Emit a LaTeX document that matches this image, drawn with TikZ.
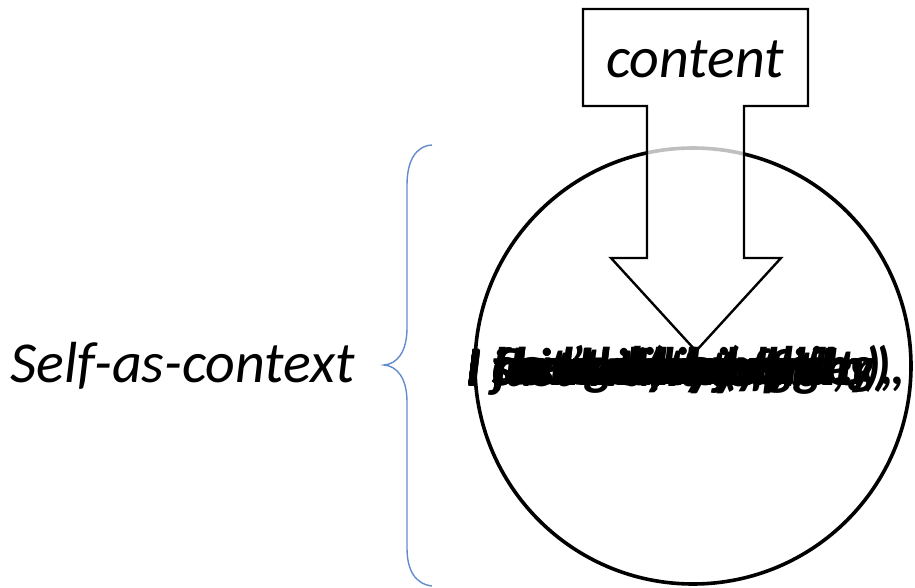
\documentclass[tikz,border=0pt]{standalone}
\usepackage{fontspec}
\setmainfont{Carlito}
\begin{document}
\begin{tikzpicture}[x=1pt,y=-1pt,
  thought/.style={anchor=base west,inner sep=0pt,font=\fontsize{53}{53}\selectfont\bfseries\itshape},
  bigit/.style={inner sep=0pt,font=\fontsize{58}{58}\selectfont\itshape}]
\useasboundingbox[fill=white] (0,0) rectangle (915,588);
% circle
\node[draw,circle,line width=3.6pt,minimum size=436pt,inner sep=0pt] (self) at (693,366) {};
% brace
\draw[line width=1.4pt,color={rgb,255:red,100;green,140;blue,205}]
  (432,145) .. controls (415,146) and (407,162) .. (407,185) -- (407,328)
  .. controls (407,352) and (397,364) .. (384,365)
  .. controls (397,366) and (407,378) .. (407,402) -- (407,548)
  .. controls (407,570) and (415,584) .. (432,586);
\coordinate (bracemid) at (384,365);
\node[bigit,anchor=base west] (sac) at (10,382) {Self-as-context};
% content arrow callout
\draw[line width=2.4pt,fill=white,fill opacity=0.75,line join=miter]
  (583,9) -- (808,9) -- (808,106) -- (744,106) -- (744,258) -- (781,258) -- (696,351)
  -- (611,258) -- (647,258) -- (647,106) -- (583,106) -- cycle;
\node[bigit,anchor=base] (content) at (695,78) {content};
% overlapping thoughts
\node[thought] (t1) at (466,384) {I should be just};
\node[thought] (t2) at (466,385) {I think I'm stupid,};
\node[thought] (t3) at (466,384) {I feel guilty (again),};
\node[thought] (t4) at (467,385) {I flunk it, my fault};
\node[thought] (t5) at (466,383) {I can't do anything};
\node[thought] (t6) at (466,384) {I am not likeable};
\node[thought] (t7) at (467,384) {I hate my body};
\node[thought] (t8) at (466,386) {I just want to fit};
\node[thought] (t9) at (466,384) {I should try harder};
\node[thought] (t10) at (466,385) {I think they laugh};
\node[thought] (t11) at (466,384) {I feel so (unworthy),};
\end{tikzpicture}
\end{document}
